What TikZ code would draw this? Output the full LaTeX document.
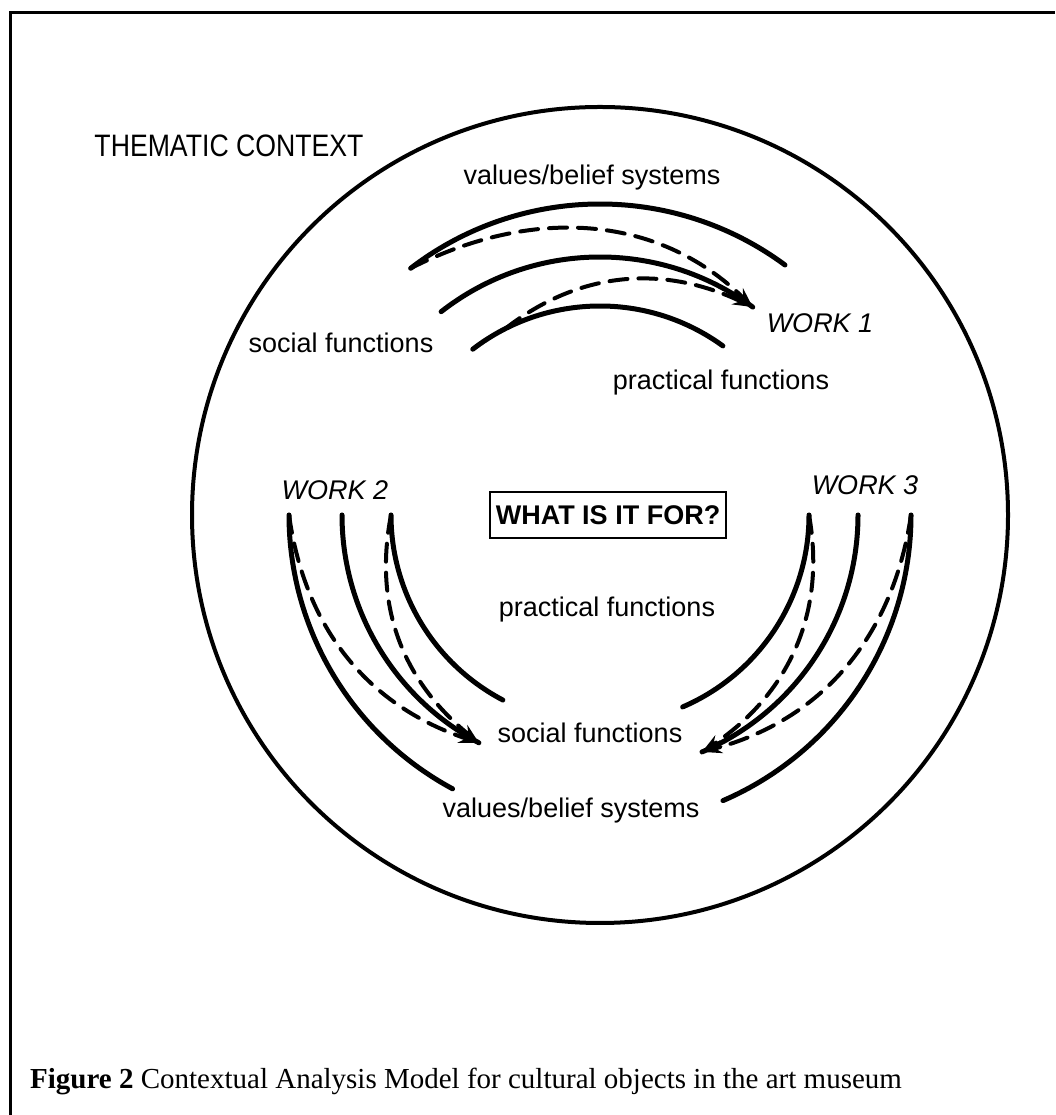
\documentclass[tikz,border=0pt]{standalone}
\usepackage{fontspec}
\setmainfont{Liberation Sans}
\newfontfamily\capfont{Liberation Serif}
\usetikzlibrary{arrows.meta}
\begin{document}
\begin{tikzpicture}[x=1pt,y=1pt,
  lbl/.style={font=\fontsize{27}{30}\selectfont, inner sep=0pt, anchor=base},
  worklbl/.style={lbl, font=\fontsize{27}{30}\selectfont\itshape},
  arcline/.style={line width=5pt, line cap=round},
  flow/.style={line width=4pt, dash pattern=on 18pt off 11pt, line cap=round, -{Stealth[length=20pt,width=13pt]}},
]
\useasboundingbox (0,0) rectangle (1055,1115);
% frame
\draw[line width=3pt] (10,0) -- (10,1102) -- (1055,1102);
% context circle
\coordinate (C) at (600,600);
\node[draw, circle, line width=4pt, minimum size=816pt, inner sep=0pt] (ctx) at (C) {};
% ---------- WORK 1 ----------
\coordinate (w1oS) at ([shift={(127.5:311)}]C);
\coordinate (w1mS) at ([shift={(128:258)}]C);
\coordinate (w1mE) at ([shift={(53.7:258)}]C);
\coordinate (w1iS) at ([shift={(127.5:209)}]C);
\coordinate (w1iD) at ([shift={(117:209)}]C);
\draw[arcline] (w1oS) arc[start angle=127.5, end angle=53.5, radius=311];
\draw[arcline] (w1mS) arc[start angle=128, end angle=53.7, radius=258];
\draw[arcline] (w1iS) arc[start angle=127.5, end angle=54, radius=209];
\draw[flow] (w1oS) to[out=27, in=135.5] (w1mE);
\draw[flow] (w1iD) to[out=37.8, in=154.5] (w1mE);
% ---------- WORK 2 ----------
\coordinate (w2oS) at ([shift={(180:311)}]C);
\coordinate (w2mS) at ([shift={(180:258)}]C);
\coordinate (w2mE) at ([shift={(242:258)}]C);
\coordinate (w2iS) at ([shift={(180:209)}]C);
\draw[arcline] (w2oS) arc[start angle=180, end angle=241.7, radius=311];
\draw[arcline] (w2mS) arc[start angle=180, end angle=242, radius=258];
\draw[arcline] (w2iS) arc[start angle=180, end angle=242.3, radius=209];
\draw[flow] (w2oS) to[out=-82, in=161.7] (w2mE);
\draw[flow] (w2iS) to[out=259, in=141] (w2mE);
% ---------- WORK 3 ----------
\coordinate (w3oS) at ([shift={(0:311)}]C);
\coordinate (w3mS) at ([shift={(0:258)}]C);
\coordinate (w3mE) at ([shift={(-66.7:258)}]C);
\coordinate (w3iS) at ([shift={(0:209)}]C);
\draw[arcline] (w3oS) arc[start angle=0, end angle=-66.7, radius=311];
\draw[arcline] (w3mS) arc[start angle=0, end angle=-66.7, radius=258];
\draw[arcline] (w3iS) arc[start angle=0, end angle=-66.7, radius=209];
\draw[flow] (w3iS) to[out=-79.8, in=33.5] (w3mE);
\draw[flow] (w3oS) to[out=-98.4, in=14.9] (w3mE);
% ---------- labels ----------
\node[lbl, font=\fontsize{31}{34}\selectfont] (thematic) at (229,958) {\scalebox{0.86}[1]{THEMATIC CONTEXT}};
\node[lbl] (vals1) at (592,930) {values/belief systems};
\node[worklbl] (work1) at (820,782) {WORK 1};
\node[lbl] (soc1) at (341,762) {social functions};
\node[lbl] (prac1) at (721,725) {practical functions};
\node[worklbl] (work2) at (335,615) {WORK 2};
\node[worklbl] (work3) at (865,620) {WORK 3};
\node[draw, line width=1.5pt, font=\bfseries\fontsize{27}{30}\selectfont, inner xsep=6pt, inner ysep=0pt, minimum height=46pt] (q) at (608,600) {WHAT IS IT FOR?};
\node[lbl] (prac2) at (607,498) {practical functions};
\node[lbl] (soc2) at (590,372) {social functions};
\node[lbl] (vals2) at (571,297) {values/belief systems};
% caption
\node[anchor=base west, inner sep=0pt, font=\capfont\fontsize{29}{32}\selectfont] (cap) at (30,27) {\textbf{Figure 2} Contextual Analysis Model for cultural objects in the art museum};
\end{tikzpicture}
\end{document}
